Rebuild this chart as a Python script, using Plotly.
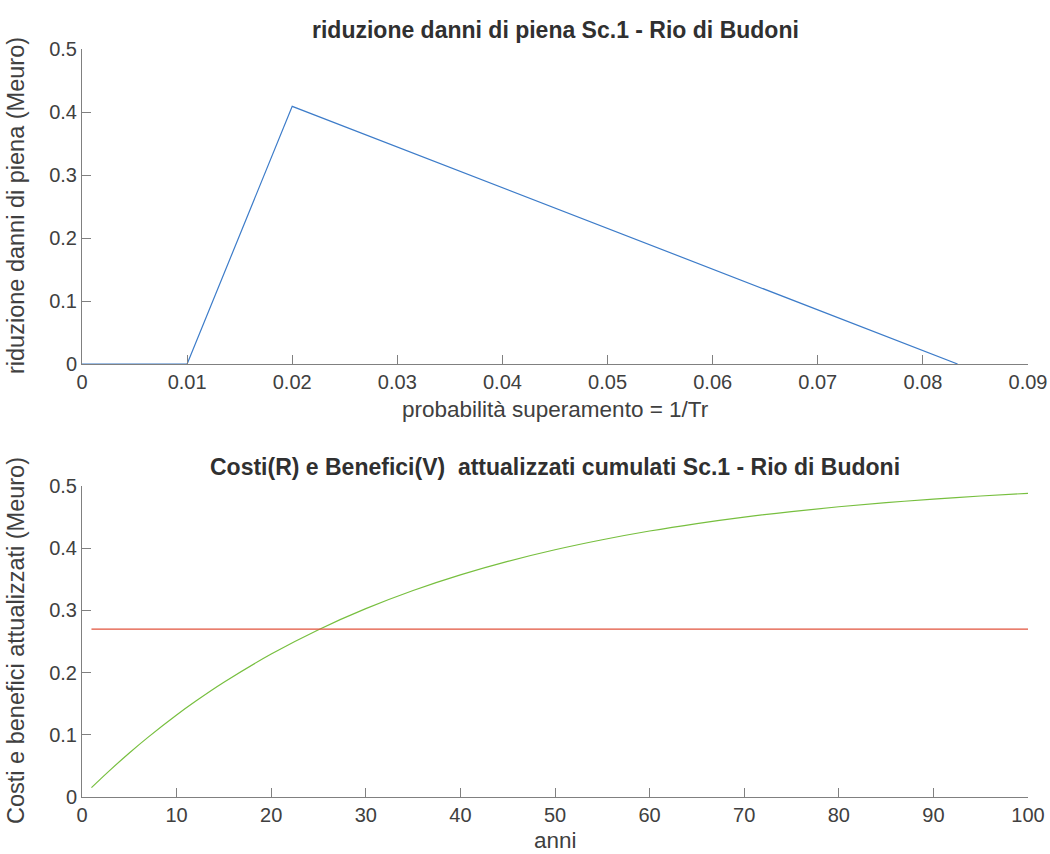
import plotly.graph_objects as go

# Top panel: flood damage reduction vs exceedance probability
prob = [0.0, 0.01, 0.02, 0.0833]
riduzione = [0.0, 0.0, 0.409, 0.0]

# Bottom panel: cumulative discounted costs and benefits
anni_b = [1, 2, 3, 5, 7, 10, 12, 15, 20, 25, 30, 35, 40, 45, 50, 55, 60, 65, 70, 75, 80, 85, 90, 95, 100]
benefici = [0.0150, 0.0296, 0.0437, 0.0708, 0.0963, 0.1318, 0.1538, 0.1844, 0.2298, 0.2690,
            0.3028, 0.3320, 0.3571, 0.3788, 0.3975, 0.4136, 0.4276, 0.4396, 0.4500, 0.4589,
            0.4666, 0.4732, 0.4790, 0.4839, 0.4882]
anni_c = [1, 100]
costi = [0.270, 0.270]

title_top = "riduzione danni di piena Sc.1 - Rio di Budoni"
title_bot = "Costi(R) e Benefici(V)  attualizzati cumulati Sc.1 - Rio di Budoni"
xlab_top = "probabilità superamento = 1/Tr"
ylab_top = "riduzione danni di piena (Meuro)"
xlab_bot = "anni"
ylab_bot = "Costi e benefici attualizzati (Meuro)"

FONT = "Liberation Sans, Arial, Helvetica, sans-serif"
TXT = "#404040"
AX = "#808080"
W, H = 1050, 854


def px(x):
    return x / W


def py(y):
    return 1 - y / H


fig = go.Figure()
fig.add_trace(go.Scatter(x=prob, y=riduzione, mode="lines", line=dict(color="#3d7cc9", width=1.2),
                         xaxis="x", yaxis="y", showlegend=False))
fig.add_trace(go.Scatter(x=anni_b, y=benefici, mode="lines", line=dict(color="#77bf3f", width=1.2, shape="spline"),
                         xaxis="x2", yaxis="y2", showlegend=False))
fig.add_trace(go.Scatter(x=anni_c, y=costi, mode="lines", line=dict(color="#e2533d", width=1.2),
                         xaxis="x2", yaxis="y2", showlegend=False))

xd = [px(82), px(1028)]
ax_common = dict(showline=True, linecolor=AX, linewidth=1, ticks="inside", ticklen=9, tickcolor=AX,
                 showgrid=False, zeroline=False, automargin=False,
                 tickfont=dict(size=20, color=TXT, family=FONT))
yt = [0, 0.1, 0.2, 0.3, 0.4, 0.5]
ytt = ["0", "0.1", "0.2", "0.3", "0.4", "0.5"]

fig.update_layout(
    template="none",
    width=W, height=H, margin=dict(l=0, r=0, t=0, b=0, pad=0),
    paper_bgcolor="white", plot_bgcolor="white", font=dict(family=FONT, color=TXT),
    xaxis=dict(domain=xd, anchor="y", range=[0, 0.09], tickmode="array",
               tickvals=[0, 0.01, 0.02, 0.03, 0.04, 0.05, 0.06, 0.07, 0.08, 0.09],
               ticktext=["0", "0.01", "0.02", "0.03", "0.04", "0.05", "0.06", "0.07", "0.08", "0.09"], **ax_common),
    yaxis=dict(domain=[py(364), py(49)], anchor="x", range=[0, 0.5], tickmode="array",
               tickvals=yt, ticktext=ytt, **ax_common),
    xaxis2=dict(domain=xd, anchor="y2", range=[0, 100], tickmode="array",
                tickvals=list(range(0, 101, 10)), ticktext=[str(v) for v in range(0, 101, 10)], **ax_common),
    yaxis2=dict(domain=[py(797), py(486)], anchor="x2", range=[0, 0.5], tickmode="array",
                tickvals=yt, ticktext=ytt, **ax_common),
)

cx = px((82 + 1028) / 2)
ann = [
    dict(text="<b>" + title_top + "</b>", x=cx, y=py(30), font=dict(size=23, color="#303030")),
    dict(text="<b>" + title_bot + "</b>", x=cx, y=py(467), font=dict(size=23, color="#303030")),
    dict(text=xlab_top, x=cx, y=py(409), font=dict(size=22.5, color=TXT)),
    dict(text=xlab_bot, x=cx, y=py(840), font=dict(size=22.5, color=TXT)),
    dict(text=ylab_top, x=px(16), y=py(206), textangle=-90, font=dict(size=23.5, color=TXT)),
    dict(text=ylab_bot, x=px(16), y=py(641), textangle=-90, font=dict(size=23.5, color=TXT)),
]
for a in ann:
    fig.add_annotation(xref="paper", yref="paper", showarrow=False, xanchor="center", yanchor="middle", **a)

fig.write_html("out.html", config={"displayModeBar": False},
               post_script="document.body.style.margin='0';document.body.style.overflow='hidden';")
